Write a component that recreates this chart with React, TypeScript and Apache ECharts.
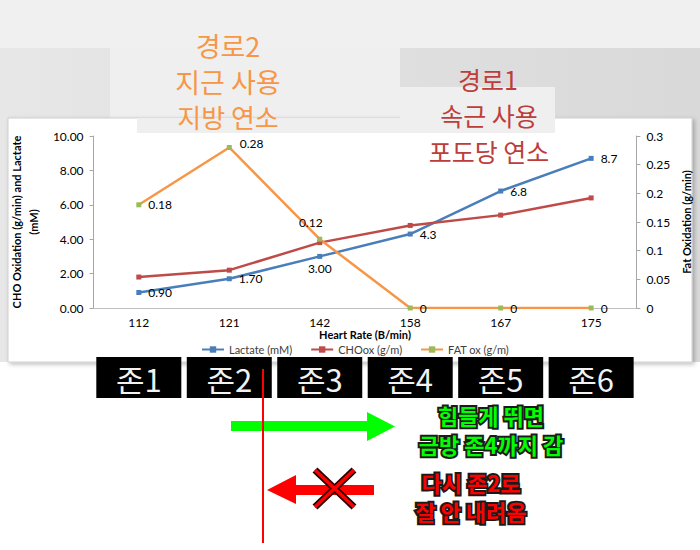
import { useEffect, useRef } from 'react';
import * as echarts from 'echarts';

// 심박수 구간별 데이터
const categories = ['112', '121', '142', '158', '167', '175'];
const lactate = [0.9, 1.7, 3.0, 4.3, 6.8, 8.7];
const choOx = [1.8, 2.2, 3.8, 4.8, 5.4, 6.4];
const fatOx = [0.18, 0.28, 0.12, 0, 0, 0];
const lactateLabels = ['0.90', '1.70', '3.00', '4.3', '6.8', '8.7'];
const fatLabels = ['0.18', '0.28', '0.12', '0', '0', '0'];
const zones = ['존1', '존2', '존3', '존4', '존5', '존6'];

const KR = '"Noto Sans CJK KR"';
const FONT = 'Lato, "Noto Sans", sans-serif';

function textEl(id: string, text: string, x: number, y: number, font: string, fill: string, extra: any = {}, z = 60) {
  return {
    id, type: 'text', z,
    style: { text, x, y, font, fill, textAlign: 'center', textVerticalAlign: 'middle', ...extra },
  };
}

// 외곽선 있는 두 줄 글자
function outlined(id: string, text: string, x: number, y: number, fill: string) {
  return textEl(id, text, x, y, `bold 22px ${KR}`, fill, {
    stroke: '#1a1a1a', lineWidth: 4, strokeFirst: true, lineHeight: 29,
  });
}

export default function App() {
  const ref = useRef<HTMLDivElement>(null);

  useEffect(() => {
    document.body.style.margin = '0';
    if (!ref.current) return;
    const chart = echarts.init(ref.current, null, { renderer: 'svg' });

    const graphic: any[] = [
      { id: 'bg', type: 'rect', z: -20, shape: { x: 0, y: 0, width: 700, height: 550 }, style: { fill: '#fff' } },
      { id: 'band', type: 'rect', z: -19, shape: { x: 0, y: 0, width: 700, height: 48 }, style: { fill: '#f0f0f0' } },
      {
        id: 'gray', type: 'rect', z: -19, shape: { x: 0, y: 48, width: 700, height: 314 },
        style: { fill: new echarts.graphic.LinearGradient(0, 0, 1, 0, [{ offset: 0, color: '#e7e7e7' }, { offset: 1, color: '#d9d9d9' }]) },
      },
      { id: 'lightL', type: 'rect', z: -18, shape: { x: 110, y: 48, width: 290, height: 70 }, style: { fill: '#efefef' } },
      {
        id: 'box', type: 'rect', z: -17, shape: { x: 8, y: 118, width: 684, height: 244 },
        style: { fill: '#fff', stroke: '#cfcfcf', lineWidth: 1, shadowBlur: 4, shadowOffsetX: 2, shadowOffsetY: 2, shadowColor: 'rgba(0,0,0,0.25)' },
      },
      { id: 'light2', type: 'rect', z: 50, shape: { x: 137, y: 118, width: 263, height: 15 }, style: { fill: '#efefef' } },
      { id: 'light1', type: 'rect', z: 50, shape: { x: 400, y: 87, width: 155, height: 46 }, style: { fill: '#efefef' } },

      textEl('r2a', '경로2', 228, 45, `27px ${KR}`, '#f79646'),
      textEl('r2b', '지근 사용', 228, 81, `27px ${KR}`, '#f79646'),
      textEl('r2c', '지방 연소', 228, 116, `26px ${KR}`, '#f79646'),
      textEl('r1a', '경로1', 488, 79, `25px ${KR}`, '#bd3d3b'),
      textEl('r1b', '속근 사용', 489, 115, `25px ${KR}`, '#bd3d3b'),
      textEl('r1c', '포도당 연소', 489, 151, `25px ${KR}`, '#bd3d3b'),

      { id: 'vline', type: 'line', z: 62, shape: { x1: 263, y1: 369, x2: 263, y2: 543 }, style: { stroke: '#ff0000', lineWidth: 2 } },
      {
        id: 'garrow', type: 'polygon', z: 60,
        shape: { points: [[231, 421], [367, 421], [367, 412], [395, 426.5], [367, 441], [367, 431], [231, 431]] },
        style: { fill: '#00ff00' },
      },
      {
        id: 'rarrow', type: 'polygon', z: 60,
        shape: { points: [[374, 485], [296, 485], [296, 475], [267, 490], [296, 504], [296, 495], [374, 495]] },
        style: { fill: '#ff0000' },
      },
      { id: 'x1o', type: 'line', z: 62, shape: { x1: 315, y1: 470, x2: 354, y2: 507 }, style: { stroke: '#2a0000', lineWidth: 7 } },
      { id: 'x2o', type: 'line', z: 62, shape: { x1: 354, y1: 470, x2: 315, y2: 507 }, style: { stroke: '#2a0000', lineWidth: 7 } },
      { id: 'x1', type: 'line', z: 63, shape: { x1: 315, y1: 470, x2: 354, y2: 507 }, style: { stroke: '#ff0000', lineWidth: 3.5 } },
      { id: 'x2', type: 'line', z: 63, shape: { x1: 354, y1: 470, x2: 315, y2: 507 }, style: { stroke: '#ff0000', lineWidth: 3.5 } },

      outlined('g', '힘들게 뛰면\n금방 존4까지 감', 491, 429, '#00ff00'),
      outlined('d', '다시 존2로\n잘 안 내려옴', 471, 496, '#ff0000'),
    ];

    const labelBase = { show: true, color: '#000', fontSize: 12, fontFamily: FONT };

    chart.setOption({
      animation: false,
      textStyle: { fontFamily: FONT },
      graphic,
      grid: { left: 77, right: 63, top: 136, bottom: 242 },
      legend: {
        left: 196, top: 339, itemWidth: 22, itemHeight: 8, itemGap: 18,
        textStyle: { fontSize: 11, color: '#404040', fontFamily: FONT },
        data: ['Lactate (mM)', 'CHOox (g/m)', 'FAT ox (g/m)'],
      },
      xAxis: {
        type: 'category', data: categories, boundaryGap: true,
        name: 'Heart Rate (B/min)', nameLocation: 'middle', nameGap: 0,
        nameTextStyle: { fontWeight: 'bold', fontSize: 11, color: '#000', verticalAlign: 'top' },
        axisLine: { lineStyle: { color: '#bfbfbf' } },
        axisTick: { length: 4, lineStyle: { color: '#bfbfbf' } },
        axisLabel: { color: '#000', fontSize: 12, margin: 8 },
        splitLine: { show: false },
      },
      yAxis: [
        {
          type: 'value', min: 0, max: 10, interval: 2,
          name: 'CHO Oxidation (g/min) and Lactate\n(mM)', nameLocation: 'middle', nameGap: 38, nameRotate: 90,
          nameTextStyle: { fontWeight: 'bold', fontSize: 11, color: '#000', lineHeight: 17 },
          axisLine: { show: true, lineStyle: { color: '#a6a6a6' } },
          axisTick: { show: true, length: 4, lineStyle: { color: '#a6a6a6' } },
          axisLabel: { color: '#000', fontSize: 12, margin: 10, formatter: (v: number) => v.toFixed(2) },
          splitLine: { show: false },
        },
        {
          type: 'value', min: 0, max: 0.3, interval: 0.05, position: 'right',
          name: 'Fat Oxidation (g/min)', nameLocation: 'middle', nameGap: 34, nameRotate: 90,
          nameTextStyle: { fontWeight: 'bold', fontSize: 11, color: '#000' },
          axisLine: { show: true, lineStyle: { color: '#a6a6a6' } },
          axisTick: { show: true, length: 4, lineStyle: { color: '#a6a6a6' } },
          axisLabel: { color: '#000', fontSize: 12, margin: 10, formatter: (v: number) => String(+v.toFixed(2)) },
          splitLine: { show: false },
        },
      ],
      series: [
        {
          name: 'Lactate (mM)', type: 'line', data: lactate.map((v, i) => ({
            value: v,
            label: i === 2 ? { position: 'bottom', distance: 4 } : { position: 'right', distance: 7 },
          })),
          symbol: 'rect', symbolSize: 5,
          itemStyle: { color: '#4a7ebb' }, lineStyle: { color: '#4a7ebb', width: 2.5 },
          label: { ...labelBase, formatter: (p: any) => lactateLabels[p.dataIndex] },
        },
        {
          name: 'CHOox (g/m)', type: 'line', data: choOx,
          symbol: 'rect', symbolSize: 5,
          itemStyle: { color: '#be4b48' }, lineStyle: { color: '#be4b48', width: 2.5 },
        },
        {
          name: 'FAT ox (g/m)', type: 'line', yAxisIndex: 1, data: fatOx.map((v, i) => ({
            value: v,
            label: i === 1 ? { position: 'right', distance: 8, offset: [0, -4] }
              : i === 2 ? { position: 'top', distance: 8, offset: [-9, 0] }
              : { position: 'right', distance: 7 },
          })),
          symbol: 'rect', symbolSize: 5, z: 3,
          itemStyle: { color: '#9bbb59' }, lineStyle: { color: '#f79646', width: 2.5 },
          label: { ...labelBase, formatter: (p: any) => fatLabels[p.dataIndex] },
        },
      ],
    });

    // 존 박스는 카테고리 위치에 맞춰 배치
    const zoneEls: any[] = [];
    zones.forEach((z, i) => {
      const cx = chart.convertToPixel({ xAxisIndex: 0 }, categories[i]) as number;
      zoneEls.push({ id: 'zb' + i, type: 'rect', z: 55, shape: { x: cx - 42.5, y: 357, width: 85, height: 41 }, style: { fill: '#000' } });
      zoneEls.push(textEl('zt' + i, z, cx, 378, `31px ${KR}`, '#f2f2f2'));
    });
    chart.setOption({ graphic: zoneEls });

    return () => chart.dispose();
  }, []);

  return <div ref={ref} style={{ width: 700, height: 550 }} />;
}
